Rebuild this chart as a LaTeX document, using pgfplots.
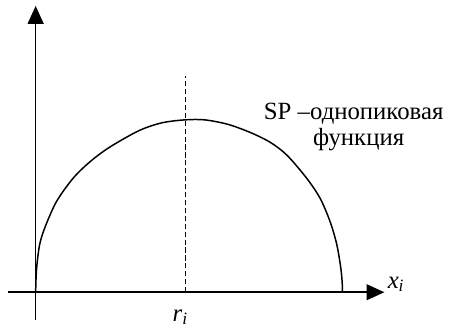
\documentclass[border=0pt]{standalone}
\usepackage{fontspec}
\setmainfont{Liberation Serif}
\usepackage{pgfplots}
\pgfplotsset{compat=1.18}
\usetikzlibrary{arrows.meta}
\begin{document}
\begin{tikzpicture}
\begin{axis}[
  scale only axis,
  width=190pt, height=158.5pt,
  xmin=-28, xmax=352, ymin=-28, ymax=289,
  axis lines=middle,
  axis line style={line width=0.75pt},
  x axis line style={-{Triangle[length=9pt,width=8pt]}},
  y axis line style={-{Triangle[length=9pt,width=8pt]}},
  xtick=\empty, ytick=\empty,
  clip=false,
]
\path (axis cs:-36,-38) rectangle (axis cs:414,295);
\addplot[black, line width=0.75pt, smooth, tension=0.5] coordinates {
(0,0) (0.3,12) (1.3,28) (4,48) (9,64.5) (20.7,91) (37.3,114.5) (54,131) (74,146)
(104,163) (127.3,171) (150.7,174) (170.7,174) (194,169.5) (217.3,161) (237.3,151)
(254,138) (274,114.5) (287.3,94.5) (297.3,71) (304,48) (308,24.5) (309.4,10) (309.7,0)
};
\addplot[black, line width=0.75pt, dash pattern=on 2.6pt off 1.4pt] coordinates {(151,0) (151,218)};
\node[font=\fontsize{12.5}{14}\selectfont] at (axis cs:146,-25) {\textit{r}\textsubscript{\textit{i}}};
\node[font=\fontsize{12.5}{14}\selectfont, anchor=west, inner sep=1pt] at (axis cs:353,8) {\textit{x}\textsubscript{\textit{i}}};
\node[font=\fontsize{12.5}{14}\selectfont] at (axis cs:321,180) {SP –однопиковая};
\node[font=\fontsize{12.5}{14}\selectfont] at (axis cs:326,154) {функция};
\end{axis}
\end{tikzpicture}
\end{document}
